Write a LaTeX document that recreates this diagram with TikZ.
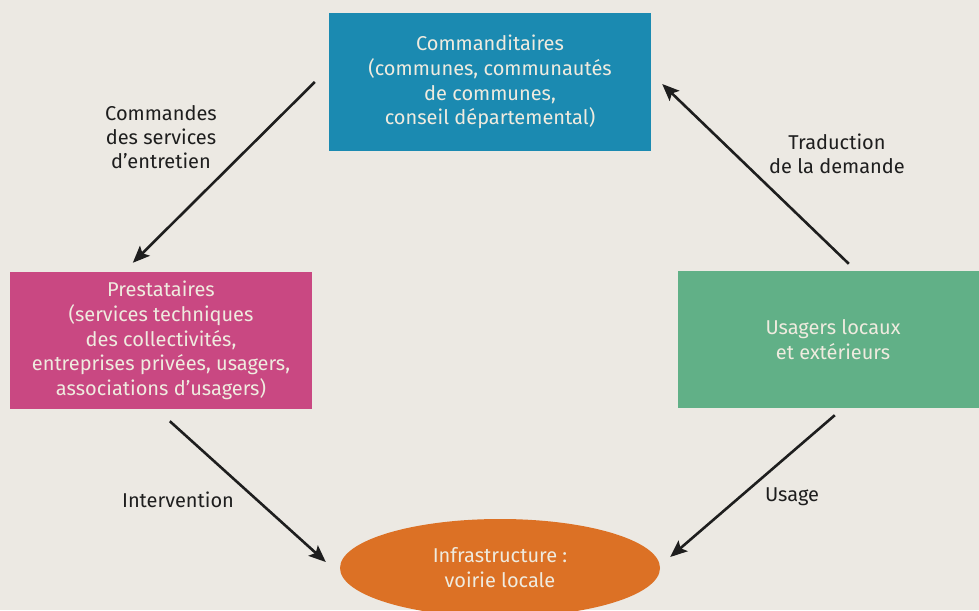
\documentclass[tikz,border=0pt]{standalone}
\usepackage{fontspec}
\setmainfont{Fira Sans}
\usetikzlibrary{arrows.meta,shapes.geometric}
\definecolor{bg}{HTML}{ECE9E3}
\definecolor{cblue}{HTML}{1B8AB1}
\definecolor{cpink}{HTML}{C94882}
\definecolor{cgreen}{HTML}{61B087}
\definecolor{corange}{HTML}{DC7125}
\definecolor{ctext}{HTML}{EFEBDF}
\definecolor{ldark}{HTML}{1E1E1E}
\tikzset{
  box/.style={rectangle, inner sep=0pt, text=ctext, align=center, font=\fontsize{20}{24.8}\selectfont},
  lbl/.style={text=ldark, align=center, font=\fontsize{20}{24.2}\selectfont},
  arr/.style={-{Stealth[length=17pt,width=14pt,inset=3.5pt]}, line width=2.6pt, draw=ldark},
}
\begin{document}
\begin{tikzpicture}[x=1pt,y=-1pt]
\fill[bg] (0,0) rectangle (979,610);
\useasboundingbox (0,0) rectangle (979,610);
\begin{scope}
\clip (0,0) rectangle (979,610);
\node[box, fill=cblue, minimum width=322pt, minimum height=138pt] (comm) at (490,82)
  {Commanditaires\\(communes, communautés\\de communes,\\conseil départemental)};
\node[box, fill=cpink, minimum width=302pt, minimum height=137pt] (prest) at (161,340.5)
  {Prestataires\\(services techniques\\des collectivités,\\entreprises privées, usagers,\\associations d’usagers)};
\node[box, fill=cgreen, minimum width=310pt, minimum height=137pt] (usag) at (833,339.5)
  {Usagers locaux\\et extérieurs};
\node[ellipse, fill=corange, inner sep=0pt, minimum width=320pt, minimum height=98pt, text=ctext, align=center, font=\fontsize{20}{24.8}\selectfont] (infra) at (500,568)
  {Infrastructure :\\voirie locale};
\end{scope}
\draw[arr] ([shift={(-14,0)}]comm.west) -- ([shift={(123,-9)}]prest.north west);
\draw[arr] ([shift={(171,-7)}]usag.north west) -- ([shift={(11,2)}]comm.east);
\draw[arr] ([shift={(160,12)}]prest.south west) -- ([shift={(-14,-6)}]infra.west);
\draw[arr] ([shift={(157,7)}]usag.south west) -- ([shift={(10,-11)}]infra.east);
\node[lbl] (l1) at (161,137) {Commandes\\des services\\d’entretien};
\node[lbl] (l2) at (837,153.5) {Traduction\\de la demande};
\node[lbl] (l3) at (178,500) {Intervention};
\node[lbl] (l4) at (792,497) {Usage};
\end{tikzpicture}
\end{document}
